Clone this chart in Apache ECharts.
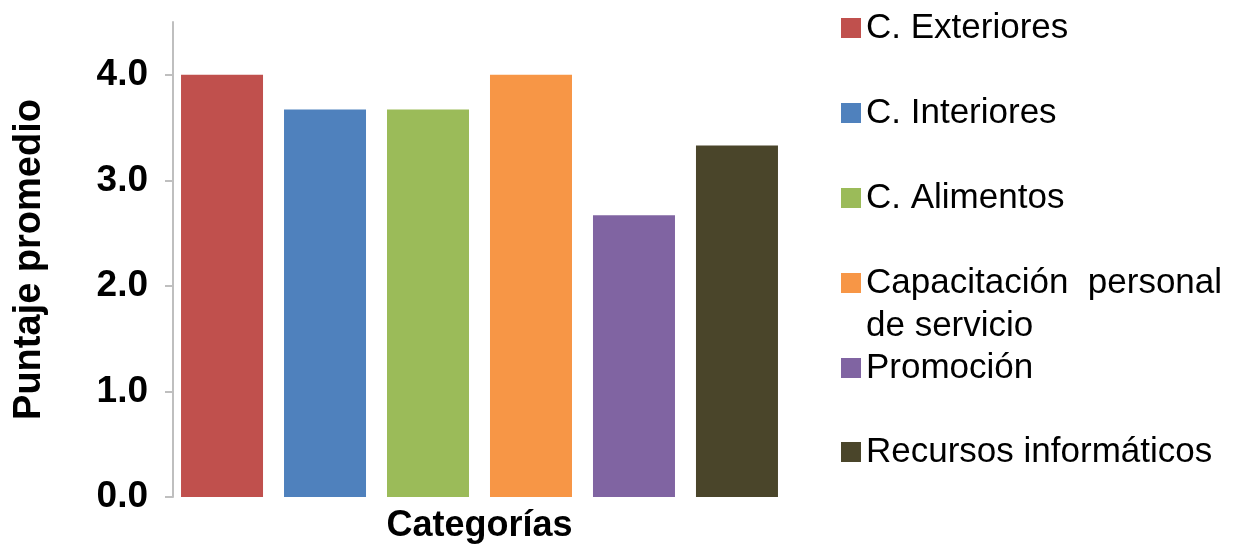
<!DOCTYPE html>
<html>
<head>
<meta charset="utf-8">
<script src="https://cdn.jsdelivr.net/npm/echarts@6/dist/echarts.min.js"></script>
<style>
  html, body { margin: 0; padding: 0; background: #fff; }
  #chart { width: 1254px; height: 544px; }
</style>
</head>
<body>
<div id="chart"></div>
<script>
// datos
const categories = ['Categorías']
const seriesNames = [
  'C. Exteriores',
  'C. Interiores',
  'C. Alimentos',
  'Capacitación  personal\nde servicio',
  'Promoción',
  'Recursos informáticos'
]
const seriesValues = [4.0, 3.67, 3.67, 4.0, 2.67, 3.33]
const seriesColors = ['#C0504D', '#4F81BD', '#9BBB59', '#F79646', '#8064A2', '#4A452A']
const yTicks = [0, 1, 2, 3, 4]

const font = '"Liberation Sans", Arial, sans-serif'
const chart = echarts.init(document.getElementById('chart'))

// leyenda: un componente por elemento para fijar la posición vertical
const legendCenters = [28, 113, 198, 283, 368, 452]
const legendLine = 43
const legends = seriesNames.map((name, i) => {
  const multi = name.indexOf('\n') >= 0
  // el texto de dos líneas lleva una línea vacía delante para que el icono quede en la primera
  const half = multi ? legendLine * 1.5 : legendLine / 2
  return {
    data: [name],
    orient: 'vertical',
    left: 841,
    top: legendCenters[i] - half,
    padding: 0,
    icon: 'rect',
    itemWidth: 20,
    itemHeight: 20,
    selectedMode: false,
    formatter: (n) => (multi ? '\n' + n : n),
    textStyle: {
      fontFamily: font,
      fontSize: 35,
      color: '#000',
      lineHeight: legendLine
    }
  }
})

const series = seriesNames.map((name, i) => ({
  name: name,
  type: 'bar',
  barWidth: 82,
  barGap: '25.6%',
  itemStyle: { color: seriesColors[i] },
  data: [seriesValues[i]]
}))

const options = {
  animation: false,
  legend: legends,
  grid: {
    left: 173,
    right: 468,
    top: 22,
    bottom: 47,
    containLabel: false
  },
  xAxis: {
    type: 'category',
    data: categories,
    axisLine: { show: false },
    axisTick: { show: false },
    axisLabel: {
      margin: 11,
      fontFamily: font,
      fontSize: 36,
      fontWeight: 'bold',
      color: '#000'
    }
  },
  yAxis: {
    type: 'value',
    min: 0,
    max: 4.5,
    name: 'Puntaje promedio',
    nameLocation: 'middle',
    nameGap: 124,
    nameTextStyle: {
      fontFamily: font,
      fontSize: 38,
      fontWeight: 'bold',
      color: '#000'
    },
    splitLine: { show: false },
    axisLine: { show: true, lineStyle: { color: '#BFBFBF', width: 2 } },
    axisTick: {
      show: true,
      length: 8,
      customValues: yTicks,
      lineStyle: { color: '#BFBFBF', width: 2 }
    },
    axisLabel: {
      customValues: yTicks,
      margin: 25,
      fontFamily: font,
      fontSize: 37,
      fontWeight: 'bold',
      color: '#000',
      formatter: (v) => v.toFixed(1)
    }
  },
  series: series
}

chart.setOption(options)
window.addEventListener('resize', () => {
  chart.resize()
})
</script>
</body>
</html>
